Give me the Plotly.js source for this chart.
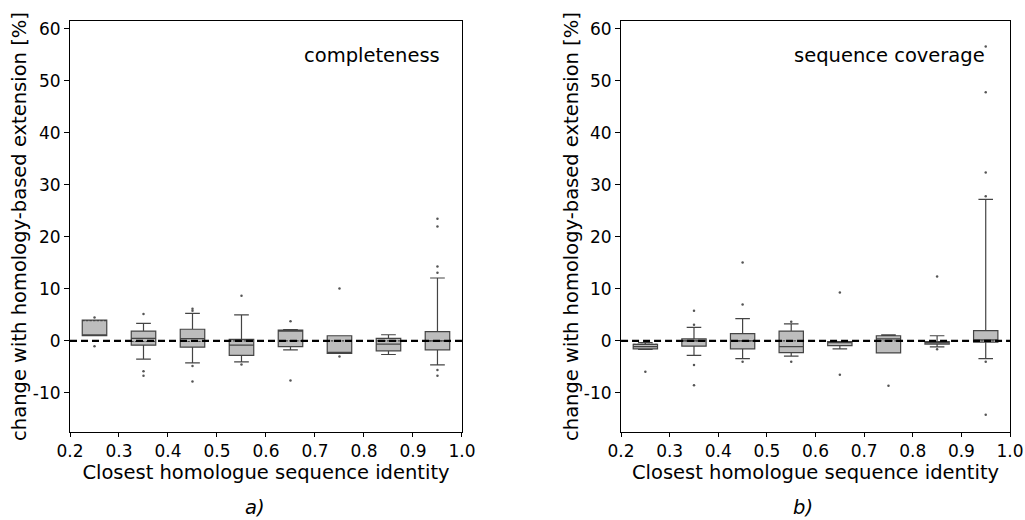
<!DOCTYPE html>
<html>
<head>
<meta charset="utf-8">
<script src="https://cdn.plot.ly/plotly-3.0.1.min.js"></script>
<style>html,body{margin:0;padding:0;background:#fff}#chart{width:1025px;height:520px}</style>
</head>
<body>
<div id="chart"></div>
<script>
// Bin centres (closest homologue sequence identity)
const positions = [0.25, 0.35, 0.45, 0.55, 0.65, 0.75, 0.85, 0.95];

// Panel a) completeness
const compLowFence = [1.0, -3.5, -4.2, -4.0, -1.7, -2.4, -2.6, -4.6];
const compQ1       = [1.0, -0.8, -1.2, -2.75, -1.1, -2.4, -1.9, -1.7];
const compMedian   = [1.1, 0.5, 0.45, -0.8, 1.9, -2.2, -0.6, 0.0];
const compMean     = [3.9, -0.1, -0.1, 0.0, 0.0, 0.0, 0.0, 0.0];
const compQ3       = [4.0, 1.9, 2.25, 0.3, 2.1, 1.0, 0.5, 1.8];
const compUpFence  = [4.0, 3.4, 5.3, 5.0, 2.2, 1.0, 1.2, 12.1];
const compOutX = [0.25, 0.25, 0.35, 0.35, 0.35, 0.45, 0.45, 0.45, 0.45, 0.55, 0.55, 0.65, 0.65, 0.75, 0.75, 0.95, 0.95, 0.95, 0.95, 0.95, 0.95];
const compOutY = [4.5, -1.0, 5.2, -5.8, -6.7, 6.2, 5.8, -4.8, -7.8, 8.7, -4.5, 3.8, -7.6, 10.1, -3.0, 23.5, 22.0, 14.3, 13.1, -5.6, -6.7];

// Panel b) sequence coverage
const covLowFence = [-1.6, -2.75, -3.4, -2.9, -1.5, -2.3, -1.15, -3.4];
const covQ1       = [-1.5, -1.0, -1.5, -2.25, -0.9, -2.3, -0.6, -0.25];
const covMedian   = [-1.1, 0.0, 0.0, -1.1, -0.3, 0.4, -0.3, 0.2];
const covMean     = [-0.65, 0.0, 0.0, 0.0, -0.1, 0.0, -0.1, 0.0];
const covQ3       = [-0.65, 0.4, 1.4, 1.9, -0.1, 1.0, -0.1, 2.0];
const covUpFence  = [-0.3, 2.6, 4.3, 3.3, -0.1, 1.2, 1.0, 27.2];
const covOutX = [0.25, 0.35, 0.35, 0.35, 0.35, 0.45, 0.45, 0.45, 0.55, 0.55, 0.65, 0.65, 0.75, 0.85, 0.85, 0.95, 0.95, 0.95, 0.95, 0.95, 0.95];
const covOutY = [-5.9, 3.1, 5.8, -4.6, -8.5, 7.0, 15.1, -4.0, 3.7, -4.0, 9.3, -6.5, -8.6, 12.4, -1.6, 27.8, 32.4, 47.8, 56.6, -4.0, -14.2];

// Axis ticks
const xTicks = [0.2, 0.3, 0.4, 0.5, 0.6, 0.7, 0.8, 0.9, 1.0];
const xTickText = ['0.2', '0.3', '0.4', '0.5', '0.6', '0.7', '0.8', '0.9', '1.0'];
const yTicks = [-10, 0, 10, 20, 30, 40, 50, 60];
const yTickText = ['-10', '0', '10', '20', '30', '40', '50', '60'];

const FONT = 'DejaVu Sans, sans-serif';
const TICK_SIZE = 17;
const TITLE_SIZE = 19.5;

function boxTrace(xa, ya, lf, q1, med, mean, q3, uf) {
  return {
    type: 'box', xaxis: xa, yaxis: ya,
    x: positions, lowerfence: lf, q1: q1, median: med, mean: mean, q3: q3, upperfence: uf,
    boxmean: true, boxpoints: false, width: 0.05, whiskerwidth: 0.6,
    fillcolor: '#bdbdbd', line: {color: '#444', width: 1.2},
    showlegend: false, hoverinfo: 'skip'
  };
}
function outTrace(xa, ya, xs, ys) {
  return {
    type: 'scatter', mode: 'markers', xaxis: xa, yaxis: ya, x: xs, y: ys,
    marker: {size: 2.5, color: '#555'}, showlegend: false, hoverinfo: 'skip'
  };
}

const data = [
  boxTrace('x', 'y', compLowFence, compQ1, compMedian, compMean, compQ3, compUpFence),
  outTrace('x', 'y', compOutX, compOutY),
  boxTrace('x2', 'y2', covLowFence, covQ1, covMedian, covMean, covQ3, covUpFence),
  outTrace('x2', 'y2', covOutX, covOutY)
];

const yTitle = 'change with homology-based extension [%]';
function xAxis(domain, anchor) {
  return {
    domain: domain, anchor: anchor, range: [0.2, 1.0],
    tickmode: 'array', tickvals: xTicks, ticktext: xTickText,
    ticks: 'outside', ticklen: 4, tickcolor: '#000',
    showline: true, mirror: true, linecolor: '#000', linewidth: 1,
    showgrid: false, zeroline: false,
    tickfont: {family: FONT, size: TICK_SIZE, color: '#000'},
    title: {text: 'Closest homologue sequence identity', font: {family: FONT, size: TITLE_SIZE, color: '#000'}, standoff: 2}
  };
}
function yAxis(anchor) {
  return {
    domain: [0.1692, 0.9596], anchor: anchor, range: [-17.5, 61.5],
    tickmode: 'array', tickvals: yTicks, ticktext: yTickText,
    ticks: 'outside', ticklen: 5, tickcolor: '#000',
    showline: true, mirror: true, linecolor: '#000', linewidth: 1,
    showgrid: false, zeroline: false,
    tickfont: {family: FONT, size: TICK_SIZE, color: '#000'},
    title: {text: yTitle, font: {family: FONT, size: TITLE_SIZE, color: '#000'}, standoff: 0}
  };
}

const layout = {
  width: 1025, height: 520,
  margin: {l: 0, r: 0, t: 0, b: 0},
  paper_bgcolor: '#fff', plot_bgcolor: '#fff',
  font: {family: FONT, color: '#000'},
  xaxis: xAxis([0.0683, 0.4507], 'y'),
  yaxis: yAxis('x'),
  xaxis2: xAxis([0.6059, 0.9854], 'y2'),
  yaxis2: yAxis('x2'),
  shapes: [
    {type: 'line', xref: 'x domain', yref: 'y', x0: 0, x1: 1, y0: 0, y1: 0, line: {color: '#000', width: 2.2, dash: '7px,4px'}},
    {type: 'line', xref: 'x2 domain', yref: 'y2', x0: 0, x1: 1, y0: 0, y1: 0, line: {color: '#000', width: 2.2, dash: '7px,4px'}}
  ],
  annotations: [
    {xref: 'x domain', yref: 'y domain', x: 0.95, y: 0.915, xanchor: 'right', yanchor: 'middle', showarrow: false,
     text: 'completeness', font: {family: FONT, size: TITLE_SIZE, color: '#000'}},
    {xref: 'x2 domain', yref: 'y2 domain', x: 0.94, y: 0.915, xanchor: 'right', yanchor: 'middle', showarrow: false,
     text: 'sequence coverage', font: {family: FONT, size: TITLE_SIZE, color: '#000'}},
    {xref: 'paper', yref: 'paper', x: 255 / 1025, y: 1 - 507 / 520, xanchor: 'center', yanchor: 'middle', showarrow: false,
     text: '<i>a)</i>', font: {family: FONT, size: TITLE_SIZE, color: '#000'}},
    {xref: 'paper', yref: 'paper', x: 803 / 1025, y: 1 - 507 / 520, xanchor: 'center', yanchor: 'middle', showarrow: false,
     text: '<i>b)</i>', font: {family: FONT, size: TITLE_SIZE, color: '#000'}}
  ]
};

Plotly.newPlot('chart', data, layout, {staticPlot: true, displayModeBar: false});
</script>
</body>
</html>
